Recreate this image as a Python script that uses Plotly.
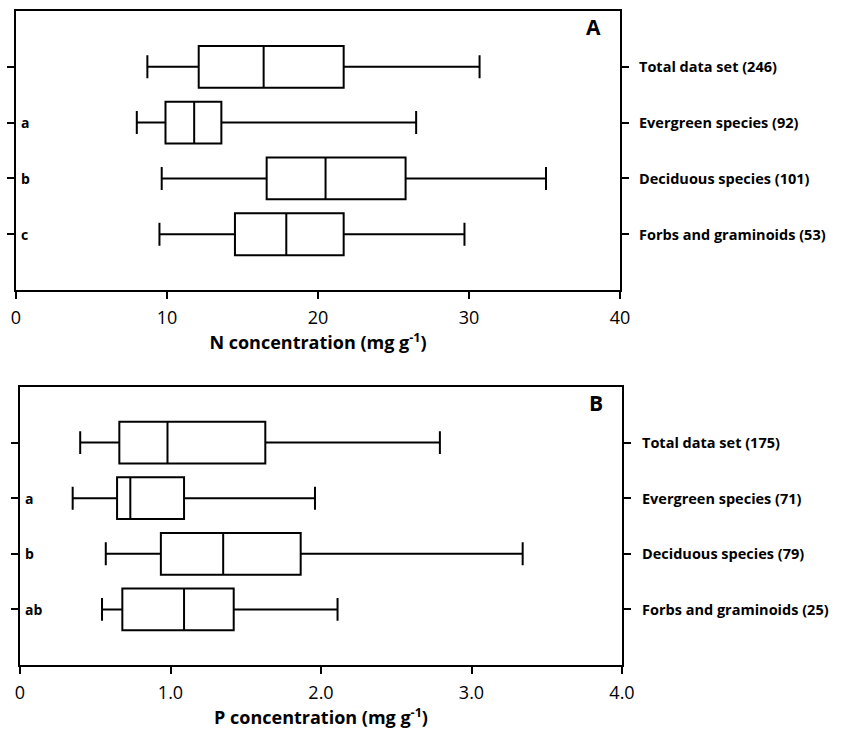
import plotly.graph_objects as go

# ---------------- data ----------------
groups = ["Total data set", "Evergreen species", "Deciduous species", "Forbs and graminoids"]
n_counts_N = [246, 92, 101, 53]
n_counts_P = [175, 71, 79, 25]
letters_N = ["", "a", "b", "c"]
letters_P = ["", "a", "b", "ab"]

N_low = [8.7, 8.0, 9.65, 9.5]
N_q1 = [12.1, 9.9, 16.6, 14.5]
N_med = [16.4, 11.8, 20.5, 17.9]
N_q3 = [21.7, 13.6, 25.8, 21.7]
N_high = [30.7, 26.5, 35.1, 29.7]

P_low = [0.40, 0.35, 0.57, 0.545]
P_q1 = [0.66, 0.645, 0.936, 0.68]
P_med = [0.98, 0.733, 1.35, 1.09]
P_q3 = [1.63, 1.09, 1.865, 1.42]
P_high = [2.79, 1.96, 3.34, 2.11]

N_ticks = [0, 10, 20, 30, 40]
N_ticktext = ["0", "10", "20", "30", "40"]
P_ticks = [0, 1, 2, 3, 4]
P_ticktext = ["0", "1.0", "2.0", "3.0", "4.0"]

positions = [0, 1, 2, 3]

FONT = "Open Sans"
W, H = 846, 731

fig = go.Figure()

fig.add_trace(go.Box(
    y=positions, q1=N_q1, median=N_med, q3=N_q3,
    lowerfence=N_low, upperfence=N_high,
    orientation="h", width=0.75, whiskerwidth=0.55,
    line=dict(color="black", width=2), fillcolor="white",
    boxpoints=False, xaxis="x", yaxis="y", showlegend=False, hoverinfo="skip",
))
fig.add_trace(go.Box(
    y=positions, q1=P_q1, median=P_med, q3=P_q3,
    lowerfence=P_low, upperfence=P_high,
    orientation="h", width=0.75, whiskerwidth=0.55,
    line=dict(color="black", width=2), fillcolor="white",
    boxpoints=False, xaxis="x2", yaxis="y2", showlegend=False, hoverinfo="skip",
))

base = dict(showline=True, linecolor="black", linewidth=2,
            ticks="outside", ticklen=7, tickwidth=2, tickcolor="black",
            showgrid=False, zeroline=False, automargin=False)
xcommon = dict(mirror=True, ticklabelstandoff=3, **base)
ycommon = dict(mirror="ticks", **base)

A_x0, A_x1, A_y0, A_y1 = 16, 620, 11, 290
B_x0, B_x1, B_y0, B_y1 = 20, 622, 387, 665

fig.update_layout(
    template="none",
    width=W, height=H,
    margin=dict(l=0, r=0, t=0, b=0),
    paper_bgcolor="white", plot_bgcolor="white",
    font=dict(family=FONT, color="black"),
    xaxis=dict(domain=[A_x0 / W, A_x1 / W], anchor="y", range=[0, 40],
               tickvals=N_ticks, ticktext=N_ticktext,
               tickfont=dict(size=18, family=FONT),
               title=dict(text="<b>N concentration (mg g<sup>-1</sup>)</b>",
                          font=dict(size=18, family=FONT), standoff=4),
               **xcommon),
    yaxis=dict(domain=[1 - A_y1 / H, 1 - A_y0 / H], anchor="x", range=[4, -1],
               tickvals=positions, showticklabels=False, **ycommon),
    xaxis2=dict(domain=[B_x0 / W, B_x1 / W], anchor="y2", range=[0, 4],
                tickvals=P_ticks, ticktext=P_ticktext,
                tickfont=dict(size=18, family=FONT),
                title=dict(text="<b>P concentration (mg g<sup>-1</sup>)</b>",
                           font=dict(size=18, family=FONT), standoff=2),
                **xcommon),
    yaxis2=dict(domain=[1 - B_y1 / H, 1 - B_y0 / H], anchor="x2", range=[4, -1],
                tickvals=positions, showticklabels=False, **ycommon),
)

ann = []
for i, g in enumerate(groups):
    ann.append(dict(text=f"<b>{g} ({n_counts_N[i]})</b>", x=637 / W, xref="paper",
                    y=positions[i], yref="y", xanchor="left", yanchor="middle",
                    showarrow=False, font=dict(size=14.5, family=FONT)))
    ann.append(dict(text=f"<b>{g} ({n_counts_P[i]})</b>", x=640 / W, xref="paper",
                    y=positions[i], yref="y2", xanchor="left", yanchor="middle",
                    showarrow=False, font=dict(size=14.5, family=FONT)))
    if letters_N[i]:
        ann.append(dict(text=f"<b>{letters_N[i]}</b>", x=0.2, xref="x",
                        y=positions[i], yref="y", xanchor="left", yanchor="middle",
                        showarrow=False, font=dict(size=14, family=FONT)))
    if letters_P[i]:
        ann.append(dict(text=f"<b>{letters_P[i]}</b>", x=0.02, xref="x2",
                        y=positions[i], yref="y2", xanchor="left", yanchor="middle",
                        showarrow=False, font=dict(size=14, family=FONT)))

ann.append(dict(text="<b>A</b>", x=38.9, xref="x", y=-0.72, yref="y",
                xanchor="right", yanchor="middle", showarrow=False,
                font=dict(size=21, family=FONT)))
ann.append(dict(text="<b>B</b>", x=3.89, xref="x2", y=-0.72, yref="y2",
                xanchor="right", yanchor="middle", showarrow=False,
                font=dict(size=21, family=FONT)))
fig.update_layout(annotations=ann)

fig.write_html("out.html")
